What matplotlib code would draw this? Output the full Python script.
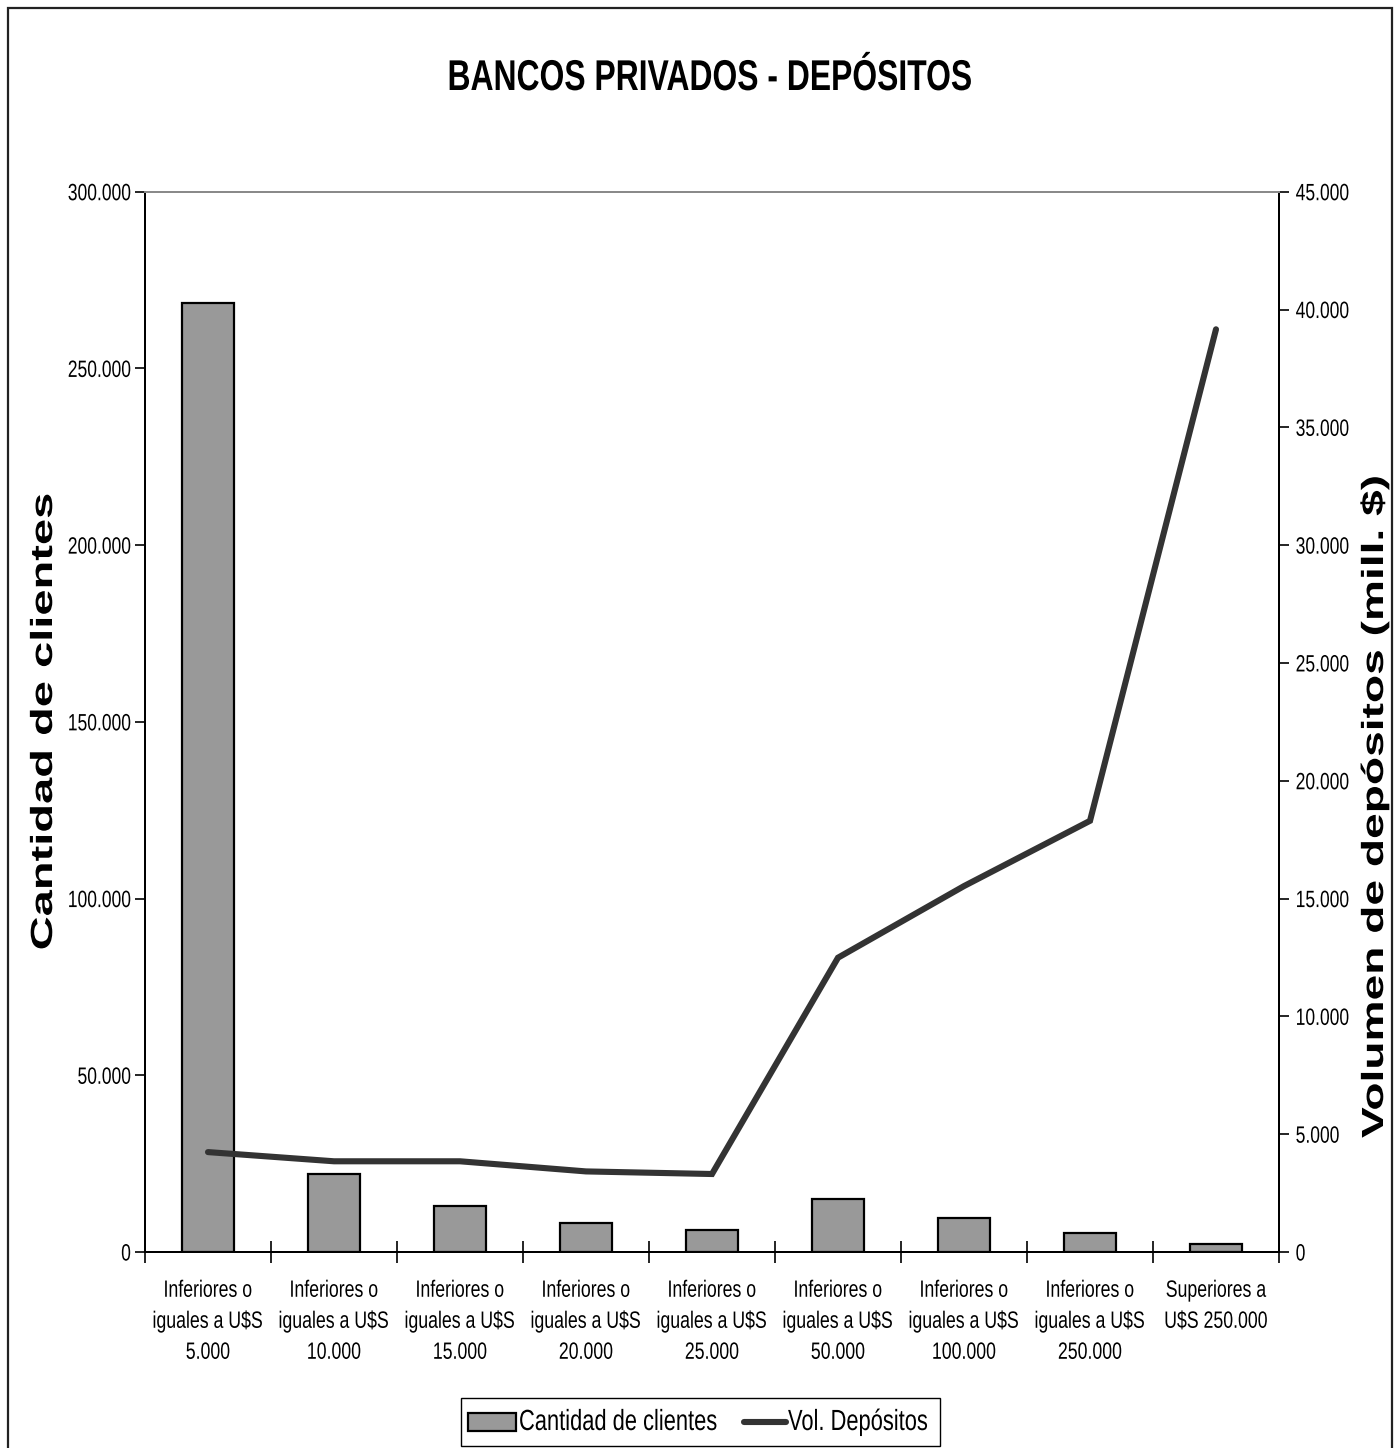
import matplotlib
matplotlib.use("Agg")
import matplotlib.pyplot as plt
from matplotlib.ticker import FuncFormatter, FixedLocator
from matplotlib.patches import Rectangle
from matplotlib.lines import Line2D
from matplotlib.patheffects import AbstractPathEffect
from matplotlib.transforms import Affine2D

# ---- data ----
categorias = [
    "Inferiores o\niguales a U$S\n5.000",
    "Inferiores o\niguales a U$S\n10.000",
    "Inferiores o\niguales a U$S\n15.000",
    "Inferiores o\niguales a U$S\n20.000",
    "Inferiores o\niguales a U$S\n25.000",
    "Inferiores o\niguales a U$S\n50.000",
    "Inferiores o\niguales a U$S\n100.000",
    "Inferiores o\niguales a U$S\n250.000",
    "Superiores a\nU$S 250.000",
]
clientes = [268600, 22000, 13100, 8200, 6100, 15000, 9600, 5400, 2300]
volumen = [4240, 3850, 3850, 3420, 3310, 12490, 15530, 18300, 39160]

ticks_clientes = [0, 50000, 100000, 150000, 200000, 250000, 300000]
ticks_volumen = [0, 5000, 10000, 15000, 20000, 25000, 30000, 35000, 40000, 45000]

titulo = "BANCOS PRIVADOS - DEPÓSITOS"
label_izq = "Cantidad de clientes"
label_der = "Volumen de depósitos (mill. $)"
leyenda = ["Cantidad de clientes", "Vol. Depósitos"]

FONT = ["Liberation Sans", "DejaVu Sans"]


class Stretch(AbstractPathEffect):
    """Scale glyph outlines along the text direction (narrow / wide lettering)."""

    def __init__(self, sx, anchor="center"):
        super().__init__()
        self.sx = sx
        self.anchor = anchor

    def draw_path(self, renderer, gc, tpath, affine, rgbFace=None):
        v = tpath.vertices
        if len(v):
            if self.anchor == "left":
                x0 = 0.0
            elif self.anchor == "right":
                x0 = float(v[:, 0].max())
            else:
                x0 = float(v[:, 0].min() + v[:, 0].max()) / 2
        else:
            x0 = 0.0
        pre = Affine2D().translate(-x0, 0).scale(self.sx, 1.0).translate(x0, 0)
        renderer.draw_path(gc, tpath, pre + affine, rgbFace)


def miles(v, pos=None):
    return f"{int(round(v)):,}".replace(",", ".")


W, H = 1400, 1448
fig = plt.figure(figsize=(W / 100, H / 100), dpi=100)
fig.patch.set_facecolor("white")


def fx(px):
    return px / W


def fy(py):
    return 1 - py / H


# outer chart frame
fig.patches.append(Rectangle((fx(8), -0.01), fx(1392 - 8), fy(8) + 0.01,
                             transform=fig.transFigure, fill=False,
                             edgecolor="#222222", linewidth=1.6, clip_on=False))

ax = fig.add_axes([fx(145), fy(1252), fx(1279 - 145), (1252 - 191.7) / H])
ax2 = ax.twinx()

x = list(range(len(categorias)))
ax.bar(x, clientes, width=0.41, color="#999999", edgecolor="black", linewidth=1.6, zorder=2)
ax2.plot(x, volumen, color="#333333", linewidth=4.4, solid_capstyle="round",
         solid_joinstyle="miter", zorder=3)

ax.set_xlim(-0.5, len(categorias) - 0.5)
ax.set_ylim(0, 300000)
ax2.set_ylim(0, 45000)

ax.set_yticks(ticks_clientes)
ax2.set_yticks(ticks_volumen)
ax.yaxis.set_major_formatter(FuncFormatter(miles))
ax2.yaxis.set_major_formatter(FuncFormatter(miles))

# category labels centred, tick marks between categories
ax.set_xticks(x)
ax.set_xticklabels(categorias, fontfamily=FONT, fontsize=17, linespacing=1.53)
ax.tick_params(axis="x", which="major", length=0, pad=20)
ax.xaxis.set_minor_locator(FixedLocator([i - 0.5 for i in range(len(categorias) + 1)]))
ax.tick_params(axis="x", which="minor", direction="inout", length=16, width=1.2, color="black")

ax.tick_params(axis="y", direction="out", length=7, width=1.2, pad=3)
ax2.tick_params(axis="y", direction="out", length=7, width=1.2, pad=5)
for lab in ax.get_yticklabels():
    lab.set_fontfamily(FONT)
    lab.set_fontsize(17)
    lab.set_path_effects([Stretch(0.74, "right")])
for lab in ax2.get_yticklabels():
    lab.set_fontfamily(FONT)
    lab.set_fontsize(17)
    lab.set_path_effects([Stretch(0.74, "left")])
for lab in ax.get_xticklabels():
    lab.set_path_effects([Stretch(0.75, "center")])

for a in (ax, ax2):
    for s in ("left", "right", "bottom"):
        a.spines[s].set_color("black")
        a.spines[s].set_linewidth(1.4)
    a.spines["top"].set_color("#8a8a8a")
    a.spines["top"].set_linewidth(1.4)

fig.text(fx(709), fy(79), titulo, ha="center", va="center",
         fontfamily=FONT, fontweight="bold", fontsize=31,
         path_effects=[Stretch(0.74, "center")])
fig.text(fx(44), fy(722), label_izq, ha="center", va="center", rotation=90,
         fontfamily=FONT, fontweight="bold", fontsize=22,
         path_effects=[Stretch(1.54, "center")])
fig.text(fx(1375), fy(807), label_der, ha="center", va="center", rotation=90,
         fontfamily=FONT, fontweight="bold", fontsize=22,
         path_effects=[Stretch(1.51, "center")])

# legend box with its two entries
fig.patches.append(Rectangle((fx(461), fy(1446)), fx(940 - 461), (1446 - 1398) / H,
                             transform=fig.transFigure, facecolor="white",
                             edgecolor="black", linewidth=1.0))
fig.patches.append(Rectangle((fx(468), fy(1431)), fx(516 - 468), (1431 - 1413) / H,
                             transform=fig.transFigure, facecolor="#999999",
                             edgecolor="black", linewidth=1.6))
fig.lines.append(Line2D([fx(744), fx(786)], [fy(1422), fy(1422)], transform=fig.transFigure,
                        color="#333333", linewidth=4.4, solid_capstyle="round"))
fig.text(fx(519), fy(1422), leyenda[0], ha="left", va="center", fontfamily=FONT,
         fontsize=21, path_effects=[Stretch(0.75, "left")])
fig.text(fx(788), fy(1422), leyenda[1], ha="left", va="center", fontfamily=FONT,
         fontsize=21, path_effects=[Stretch(0.75, "left")])

fig.savefig("out.png", dpi=100, facecolor="white")
